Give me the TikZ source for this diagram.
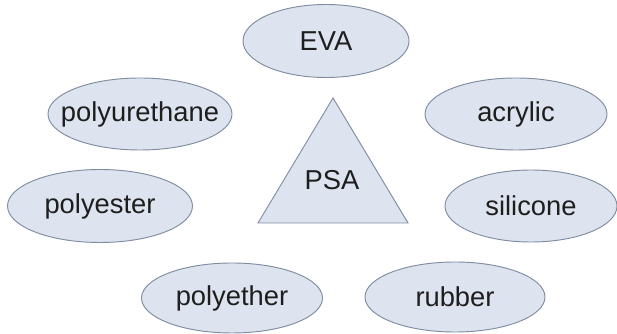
\documentclass[tikz,border=0pt]{standalone}
\usepackage{fontspec}
\setmainfont{Liberation Sans}
\usetikzlibrary{shapes.geometric}
\definecolor{ellfill}{RGB}{221,228,239}
\definecolor{ellline}{RGB}{128,140,160}
\definecolor{txt}{RGB}{30,30,30}
\begin{document}
\begin{tikzpicture}[x=0.75pt,y=-0.75pt,
  lbl/.style={font=\fontsize{20.5}{24}\selectfont, text=txt, inner sep=0pt},
  ell/.style 2 args={ellipse, draw=ellline, fill=ellfill, line width=0.7pt,
     inner sep=0pt, minimum width=#1*0.75pt, minimum height=#2*0.75pt}]
\useasboundingbox (0,0) rectangle (617,334);
\fill[white] (0,0) rectangle (617,334);
\node[ell={166}{73}] (eva) at (326,41) {};
\node[lbl] (evat) at (eva) {EVA};
\node[ell={184}{72}] (pu) at (140,114) {};
\node[lbl] (put) at (pu) {polyurethane};
\node[ell={182}{72}] (ac) at (516,114) {};
\node[lbl] (act) at (ac) {acrylic};
\node[ell={185}{73}] (pe) at (100,206) {};
\node[lbl] (pet) at (pe) {polyester};
\node[ell={172}{72}] (si) at (531,206) {};
\node[lbl] (sit) at (si) {silicone};
\node[ell={181}{70}] (pyt) at (232,298) {};
\node[lbl] (pytt) at (pyt) {polyether};
\node[ell={180}{70}] (ru) at (455,297) {};
\node[lbl] (rut) at (ru) {rubber};
\coordinate (t1) at (333,98);
\coordinate (t2) at (258,223);
\coordinate (t3) at (408,223);
\filldraw[draw=ellline, fill=ellfill, line width=0.7pt] (t1) -- (t2) -- (t3) -- cycle;
\node[lbl] (psa) at (332,180) {PSA};
\end{tikzpicture}
\end{document}
